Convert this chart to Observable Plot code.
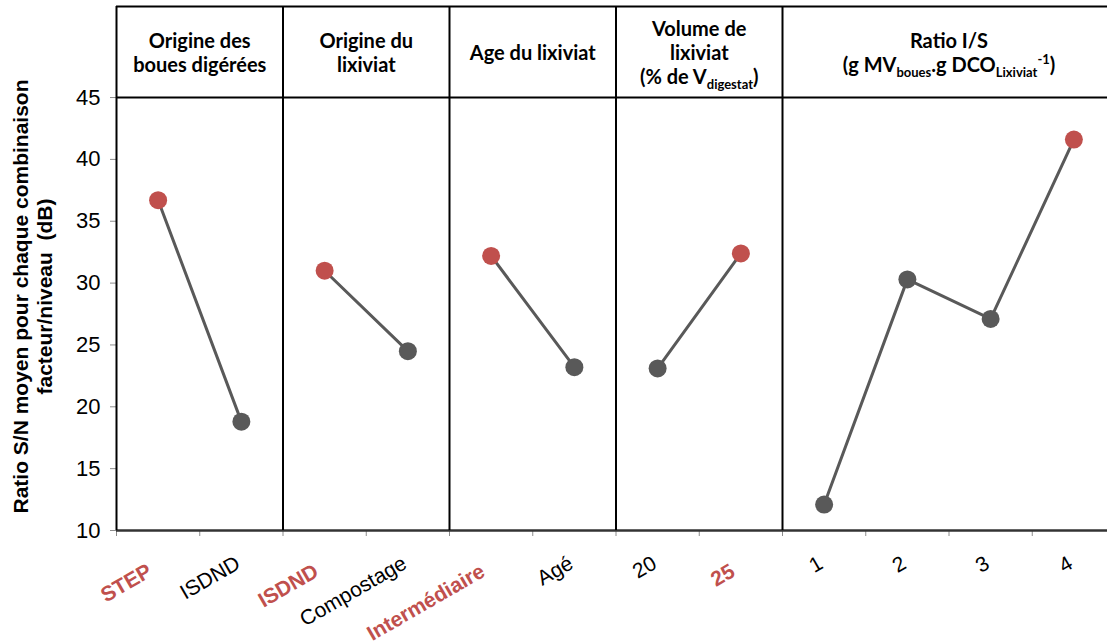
<!DOCTYPE html>
<html><head><meta charset="utf-8">
<script src="https://cdn.jsdelivr.net/npm/d3@7"></script>
<script src="https://cdn.jsdelivr.net/npm/@observablehq/plot@0.6"></script>
<style>
html,body{margin:0;padding:0;background:#fff;overflow:hidden;}
#chart{width:1107px;height:641px;overflow:hidden;}
</style></head><body><div id="chart"></div>
<script>
// ---- data ----
const factorHeaders = [
  "Origine des\nboues digérées",
  "Origine du\nlixiviat",
  "Age du lixiviat",
  "Volume de\nlixiviat\n(% de V_{digestat})",
  "Ratio I/S\n(g MV_{boues}.g DCO_{Lixiviat}^{-1})"
];
const levelLabels = [
  ["STEP", "ISDND"],
  ["ISDND", "Compostage"],
  ["Intermédiaire", "Agé"],
  ["20", "25"],
  ["1", "2", "3", "4"]
];
const snMeans = [
  [36.7, 18.8],
  [31.0, 24.5],
  [32.2, 23.2],
  [23.1, 32.4],
  [12.1, 30.3, 27.1, 41.6]
];
const bestLevel = [0, 0, 0, 1, 3];          // red points
const redLabelLevel = [0, 0, 0, 1, null];   // red bold tick labels
const yTicks = [10, 15, 20, 25, 30, 35, 40, 45];
const yTitle = "Ratio S/N moyen pour chaque combinaison\nfacteur/niveau  (dB)";
const headerTopValue = 52.36;

// ---- build tables ----
const rows = [], panels = [];
let pos = 0;
levelLabels.forEach((lv, f) => {
  const start = pos;
  lv.forEach((label, j) => {
    rows.push({factor: f, label, value: snMeans[f][j], pos: pos + 0.5,
               best: j === bestLevel[f], red: j === redLabelLevel[f]});
    pos++;
  });
  panels.push({factor: f, start, end: pos, mid: (start + pos) / 2, header: factorHeaders[f]});
});
const boundaries = d3.range(0, pos + 1);
const separators = panels.map(p => p.start);
const RED = "#c0504d", GREY = "#595959";

const plot = Plot.plot({
  width: 1115, height: 641,
  marginLeft: 116, marginRight: 0, marginTop: 6, marginBottom: 111,
  x: {domain: [0, pos], axis: null},
  y: {domain: [10, headerTopValue], axis: null},
  style: {fontFamily: "'Liberation Sans', Arial, sans-serif", background: "white", maxWidth: "none", overflow: "visible"},
  marks: [
    Plot.axisY({ticks: yTicks, tickSize: 6, tickPadding: 10, stroke: "#8c8c8c", fill: "black", fontSize: 22, label: null}),
    Plot.axisX({ticks: boundaries, tickSize: 6, tickFormat: () => "", stroke: "#8c8c8c", label: null}),
    Plot.ruleY([10], {stroke: "#333", strokeWidth: 2.5}),
    Plot.ruleY([45, headerTopValue], {stroke: "black", strokeWidth: 2}),
    Plot.ruleX(separators, {y1: 10, y2: headerTopValue, stroke: "black", strokeWidth: 2}),
    Plot.line(rows, {x: "pos", y: "value", z: "factor", stroke: GREY, strokeWidth: 3}),
    Plot.dot(rows.filter(d => !d.best), {x: "pos", y: "value", r: 9, fill: GREY}),
    Plot.dot(rows.filter(d => d.best), {x: "pos", y: "value", r: 9, fill: RED}),
    Plot.text(rows.filter(d => !d.red), {x: "pos", frameAnchor: "bottom", text: "label", rotate: -30,
      textAnchor: "end", lineAnchor: "middle", fontSize: 21, dx: -3, dy: 31, fill: "black"}),
    Plot.text(rows.filter(d => d.red), {x: "pos", frameAnchor: "bottom", text: "label", rotate: -30,
      textAnchor: "end", lineAnchor: "middle", fontSize: 21, fontWeight: "bold", dx: -8, dy: 39, fill: RED}),
    Plot.text(panels, {x: "mid", y: (45 + headerTopValue) / 2, text: "header", fontFamily: "Lato, 'Open Sans', sans-serif",
      fontWeight: "bold", fontSize: 20, lineHeight: 1.2, fill: "black"}),
    Plot.text([yTitle], {frameAnchor: "left", text: d => d, rotate: -90, textAnchor: "middle", lineAnchor: "middle",
      dx: -84, dy: 28, fontWeight: "bold", fontSize: 21, lineHeight: 1.12, fill: "black"})
  ]
});
plot.style.maxWidth = "none";
document.getElementById("chart").appendChild(plot);

// rich text (subscripts / superscripts) in headers
function richify(t) {
  const s = t.textContent;
  if (!/[_^]\{/.test(s)) return;
  t.textContent = "";
  const re = /([_^])\{([^}]*)\}/g;
  let last = 0, shift = 0, m;
  const add = (str, kind) => {
    const ts = document.createElementNS("http://www.w3.org/2000/svg", "tspan");
    const target = kind === "_" ? 5 : kind === "^" ? -8 : 0;
    if (target !== shift) ts.setAttribute("dy", target - shift);
    shift = target;
    if (kind) ts.setAttribute("font-size", 13);
    ts.textContent = str;
    t.appendChild(ts);
  };
  while ((m = re.exec(s))) {
    if (m.index > last) add(s.slice(last, m.index), null);
    add(m[2], m[1]);
    last = re.lastIndex;
  }
  if (last < s.length) add(s.slice(last), null);
}
d3.select(plot).selectAll("text").each(function () {
  const spans = Array.from(this.querySelectorAll("tspan"));
  (spans.length ? spans : [this]).forEach(richify);
  if (this.textContent.includes("facteur")) this.setAttribute("style", "white-space: pre");
});
</script></body></html>
